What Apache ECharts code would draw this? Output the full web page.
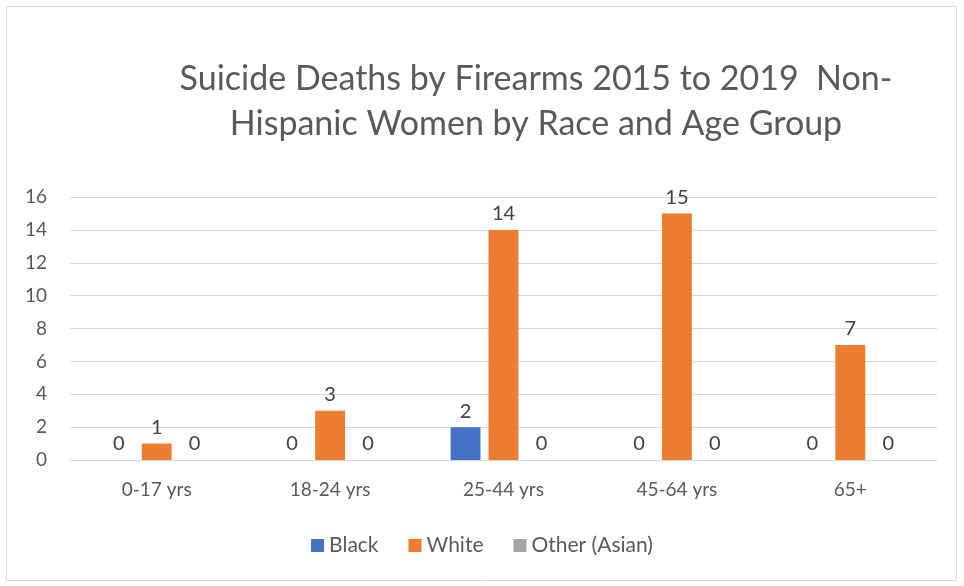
<!DOCTYPE html>
<html><head><meta charset="utf-8">
<script src="https://cdn.jsdelivr.net/npm/echarts@6/dist/echarts.min.js"></script>
<style>html,body{margin:0;padding:0;background:#fff}#c{width:964px;height:586px}</style>
</head><body><div id="c"></div>
<script>
const categories = ['0-17 yrs','18-24 yrs','25-44 yrs','45-64 yrs','65+'];
const black = [0,0,2,0,0];
const white = [1,3,14,15,7];
const other = [0,0,0,0,0];
const yTicks = [0,2,4,6,8,10,12,14,16];

const FONT = 'Lato';
const chart = echarts.init(document.getElementById('c'));
const lbl = {show:true, position:'top', color:'#404040', fontSize:20, fontFamily:FONT, distance:6};
chart.setOption({
  animation:false,
  textStyle:{fontFamily:FONT},
  graphic:[{type:'rect', shape:{x:6.5,y:6.5,width:950,height:574}, style:{fill:'none', stroke:'#d9d9d9', lineWidth:1}}],
  title:{text:'Suicide Deaths by Firearms 2015 to 2019  Non-\nHispanic Women by Race and Age Group',
    left:531, top:52, textAlign:'center',
    textStyle:{fontFamily:FONT, fontSize:34, fontWeight:'normal', color:'#595959', lineHeight:45}},
  legend:{bottom:25, left:'center', itemWidth:13, itemHeight:13, itemGap:30,
    icon:'rect', textStyle:{fontFamily:FONT, fontSize:21, color:'#595959'}},
  grid:{left:70, right:27, top:197, bottom:126},
  xAxis:{type:'category', data:categories,
    axisLine:{lineStyle:{color:'#d9d9d9'}}, axisTick:{show:false},
    axisLabel:{color:'#595959', fontSize:19, fontFamily:FONT, margin:20}},
  yAxis:{type:'value', min:yTicks[0], max:yTicks[yTicks.length-1], interval:2,
    axisLine:{show:false}, axisTick:{show:false},
    splitLine:{lineStyle:{color:'#d9d9d9'}},
    axisLabel:{color:'#595959', fontSize:19, fontFamily:FONT, margin:23}},
  series:[
    {name:'Black', type:'bar', data:black, itemStyle:{color:'#4472c4'}, label:lbl, barGap:'27%', barCategoryGap:'39%'},
    {name:'White', type:'bar', data:white, itemStyle:{color:'#ed7d31'}, label:lbl},
    {name:'Other (Asian)', type:'bar', data:other, itemStyle:{color:'#a5a5a5'}, label:lbl}
  ]
});
</script></body></html>
